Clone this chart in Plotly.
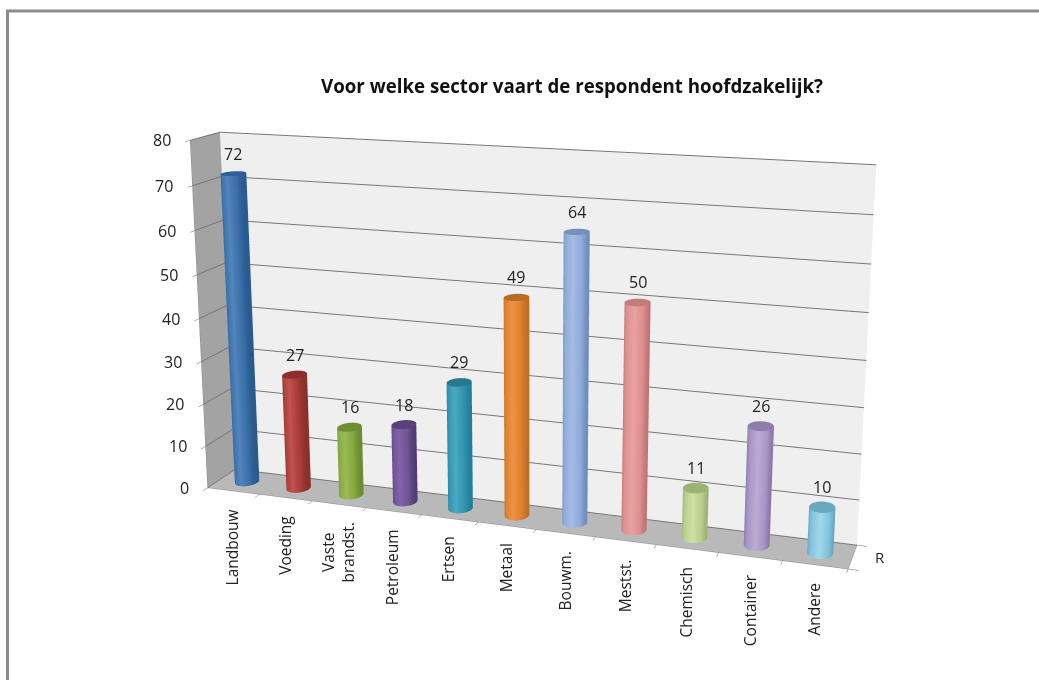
import numpy as np
import plotly.graph_objects as go

categories = ["Landbouw", "Voeding", "Vaste<br>brandst.", "Petroleum", "Ertsen", "Metaal",
              "Bouwm.", "Mestst.", "Chemisch", "Container", "Andere"]
values = [72, 27, 16, 18, 29, 49, 64, 50, 11, 26, 10]
# (side dark, side base, side light, cap)
bar_colors = [
    ("#2a5a8e", "#3a70aa", "#5485bd", "#2f5f95"),
    ("#8a302d", "#aa3c39", "#bf5450", "#8a2f2d"),
    ("#6d8b32", "#86a940", "#9abb55", "#6f8e33"),
    ("#523b72", "#6f5395", "#8265a8", "#59417c"),
    ("#257f99", "#3294af", "#4aa9c4", "#27798f"),
    ("#c06e24", "#dd8030", "#ee9344", "#bb6a24"),
    ("#6f8cba", "#8fabd9", "#a4bde6", "#7590bd"),
    ("#bd7574", "#dd8f8e", "#e9a3a2", "#c17c7b"),
    ("#9ab474", "#b9d08f", "#cde0a6", "#9bb374"),
    ("#8a77a8", "#a896c6", "#bbabd6", "#8f7dab"),
    ("#66a9c1", "#84c4dc", "#9fd8ec", "#6aa8bf"),
]
y_ticks = [0, 10, 20, 30, 40, 50, 60, 70, 80]
title = "Voor welke sector vaart de respondent hoofdzakelijk?"

FONT = "Open Sans"
TEXT = "#222222"
RX = 0.2
RY = 0.25
# The 3D view has a fixed 45 degree lens, so a tall page gives the reference's flatter perspective.
PAGE_H = 1360
PAGE_TOP = -382
theta = np.linspace(0, 2 * np.pi, 49)
flat = dict(ambient=1, diffuse=0, specular=0, roughness=1, fresnel=0)


def paper_y(py):
    return 1 - (py - PAGE_TOP) / PAGE_H


fig = go.Figure()
for i, v in enumerate(values):
    cx, cy = i + 0.5, 0.5
    dark, base, light, cap = bar_colors[i]
    X = np.vstack([cx + RX * np.cos(theta)] * 2)
    Y = np.vstack([cy + RY * np.sin(theta)] * 2)
    Z = np.vstack([np.zeros_like(theta), np.full_like(theta, v)])
    shade = np.vstack([np.cos(theta)] * 2)
    fig.add_trace(go.Surface(
        x=X, y=Y, z=Z, surfacecolor=shade, cmin=-1, cmax=1, showscale=False, hoverinfo="skip",
        colorscale=[[0, dark], [0.2, base], [0.55, light], [0.85, base], [1, dark]],
        lighting=flat,
    ))
    r = np.array([0, 1.0])
    X = cx + RX * np.outer(r, np.cos(theta))
    Y = cy + RY * np.outer(r, np.sin(theta))
    fig.add_trace(go.Surface(
        x=X, y=Y, z=np.full_like(X, v), surfacecolor=np.zeros_like(X), cmin=0, cmax=1,
        showscale=False, hoverinfo="skip", colorscale=[[0, cap], [1, cap]],
        lighting=flat,
    ))

annotations = []
for i, (c, v) in enumerate(zip(categories, values)):
    annotations.append(dict(x=i + 0.5, y=0.5, z=v, text=str(v), showarrow=False, yanchor="bottom",
                            yshift=7, font=dict(family=FONT, size=16, color=TEXT)))
    annotations.append(dict(x=i + 0.5, y=0, z=0, text=c, showarrow=False, textangle=-90, yanchor="top",
                            xshift=-1, yshift=-16, font=dict(family=FONT, size=15.5, color=TEXT)))
for t in y_ticks:
    annotations.append(dict(x=0, y=0, z=t, text=str(t), showarrow=False, xanchor="right",
                            xshift=-17, font=dict(family=FONT, size=16, color=TEXT)))
annotations.append(dict(x=11, y=0.5, z=0, text="R", showarrow=False, xanchor="left", xshift=20,
                        font=dict(family=FONT, size=15, color=TEXT)))

axis_common = dict(title=dict(text=""), showspikes=False, zeroline=False, showline=True,
                   linecolor="#8a8a8a", linewidth=1, ticks="outside", tickcolor="#666666", ticklen=8)

fig.update_layout(
    width=1039, height=PAGE_H,
    margin=dict(l=0, r=0, t=0, b=0),
    paper_bgcolor="white",
    showlegend=False,
    title=dict(text="<b>" + title + "</b>", x=572 / 1039, xanchor="center", y=paper_y(86), yanchor="middle",
               font=dict(family=FONT, size=18.7, color="#111111")),
    shapes=[dict(type="path", xref="paper", yref="paper", line=dict(color="#8c8c8c", width=3),
                 path=f"M {7.5/1039} 0 L {7.5/1039} {paper_y(11)} L 1 {paper_y(11)}")],
    scene=dict(
        domain=dict(x=[0, 1], y=[0, 1]),
        dragmode="orbit",
        aspectmode="manual", aspectratio=dict(x=1.8157, y=0.1637, z=1),
        camera=dict(projection=dict(type="perspective"),
                    eye=dict(x=1.3767, y=-3.9808, z=1.1505),
                    center=dict(x=0.0084, y=0, z=0.1116),
                    up=dict(x=0.0021, y=0, z=1)),
        xaxis=dict(range=[0, 11], tickvals=list(range(12)), ticktext=[""] * 12, showgrid=False,
                   showbackground=True, backgroundcolor="#a3a3a3", **axis_common),
        yaxis=dict(range=[0, 1], tickvals=[0, 1], ticktext=["", ""], showgrid=False,
                   showbackground=True, backgroundcolor="#efefef", **axis_common),
        zaxis=dict(range=[0, 80], tickvals=y_ticks, ticktext=[""] * len(y_ticks), showgrid=True,
                   gridcolor="#777777", gridwidth=2,
                   showbackground=True, backgroundcolor="#b9b9b9", **axis_common),
        annotations=annotations,
    ),
)
fig.write_html(
    "out.html",
    config=dict(displayModeBar=False),
    post_script=f"document.documentElement.style.overflow='hidden';"
                f"document.body.style.overflow='hidden';"
                f"document.body.style.margin='{PAGE_TOP}px 0 0 0';",
)
